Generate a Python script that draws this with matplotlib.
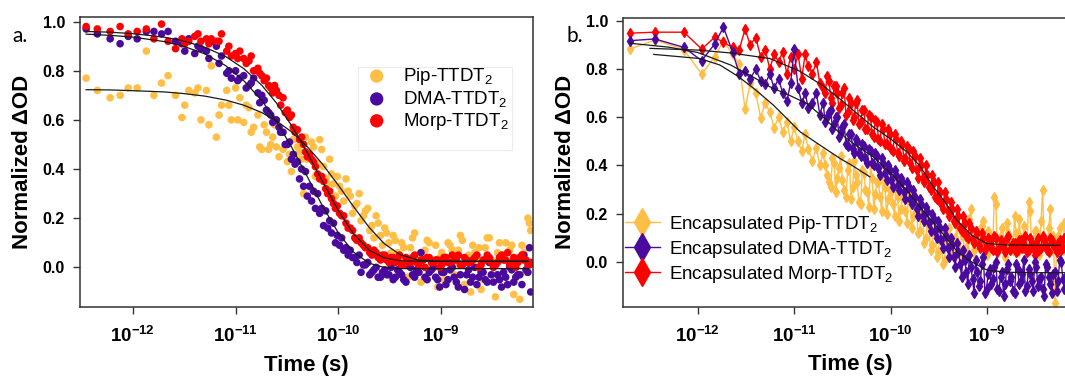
import matplotlib
matplotlib.use('Agg')
import matplotlib.pyplot as plt
from matplotlib.patches import Rectangle
from matplotlib.ticker import NullLocator

plt.rcParams['font.family'] = ['Liberation Sans', 'DejaVu Sans']
plt.rcParams['mathtext.fontset'] = 'custom'
plt.rcParams['mathtext.rm'] = 'Liberation Sans'
plt.rcParams['mathtext.bf'] = 'Liberation Sans:bold'
plt.rcParams['mathtext.it'] = 'Liberation Sans:italic'

PS = 1e-12  # data below is in ps

C_PIP = '#FFBF47'
C_DMA = '#4B0A9E'
C_MORP = '#FF0000'

labels_a = ['Pip-TTDT$_\\mathrm{2}$', 'DMA-TTDT$_\\mathrm{2}$', 'Morp-TTDT$_\\mathrm{2}$']
labels_b = ['Encapsulated ' + s for s in labels_a]

x_tick_values = [1e-12, 1e-11, 1e-10, 1e-9]
x_tick_labels = ['$\\mathbf{10^{-12}}$', '$\\mathbf{10^{-11}}$',
                 '$\\mathbf{10^{-10}}$', '$\\mathbf{10^{-9}}$']
y_tick_values = [0.0, 0.2, 0.4, 0.6, 0.8, 1.0]

# ---- panel a: solution, scatter (two delay sweeps) ----
t_a = [0.35, 0.45, 0.6, 0.75, 0.9,
       1.1, 1.35, 1.6, 1.9, 2.2, 2.6, 3.0, 3.5, 4.0, 4.6, 5.2, 5.8, 6.5, 7.3, 8.2, 9.1,
       10, 11, 12, 13.5, 15, 16.5, 18, 20, 22, 24, 26.5, 29, 32, 35, 38, 42, 46, 50,
       55, 60, 66, 72, 79, 86, 94,
       103, 113, 125, 138, 152, 167, 184, 203, 223, 245, 270, 297, 327, 360, 396,
       435, 480, 530, 580, 640, 700, 770, 850, 930,
       1020, 1120, 1230, 1350, 1480, 1620, 1780, 1950, 2140, 2350, 2580, 2830, 3100,
       3400, 3720, 4080, 4470, 4900, 5370, 5880, 6440, 7050, 7500]

morp_a = [0.98, 0.97, 0.96, 0.98, 0.95,
          0.96, 0.97, 0.93, 0.99, 0.92, 0.89, 0.93, 0.92, 0.94, 0.92, 0.93, 0.93,
          0.92, 0.95, 0.88, 0.86,
          0.87, 0.88, 0.85, 0.84, 0.80, 0.81, 0.78, 0.77, 0.73, 0.74, 0.70, 0.69,
          0.64, 0.62, 0.55, 0.52, 0.50, 0.45, 0.44, 0.41, 0.36, 0.35, 0.30, 0.28, 0.24,
          0.22, 0.21, 0.16, 0.15, 0.11, 0.10, 0.08, 0.06, 0.07, 0.04, 0.05, 0.03,
          0.04, 0.02, 0.05, 0.01, 0.03, 0.04, 0.02, 0.03, 0.00, 0.04, 0.02, 0.03,
          0.01, 0.04, 0.02, 0.03, 0.05, 0.01, 0.03, 0.02, 0.04, 0.00, 0.03, 0.05,
          0.02, 0.01, 0.04, 0.03, 0.06, 0.02, 0.00, 0.04, 0.03, 0.01, 0.02]

dma_a = [0.97, 0.95, 0.93, 0.91, 0.94,
         0.93, 0.96, 0.96, 0.95, 0.96, 0.92, 0.91, 0.93, 0.87, 0.89, 0.88, 0.92,
         0.90, 0.86, 0.79, 0.77,
         0.80, 0.77, 0.78, 0.74, 0.77, 0.71, 0.70, 0.64, 0.62, 0.60, 0.57, 0.55,
         0.50, 0.44, 0.42, 0.36, 0.33, 0.29, 0.27, 0.24, 0.22, 0.17, 0.16, 0.14, 0.10,
         0.09, 0.07, 0.05, 0.04, 0.02, -0.02, 0.01, -0.03, -0.01, -0.04, -0.02,
         -0.03, 0.00, -0.04, -0.02, -0.05, 0.01, -0.03, -0.01, 0.06, -0.04, -0.02,
         0.00, -0.05,
         -0.02, -0.07, -0.01, -0.04, -0.08, 0.01, -0.03, -0.06, 0.00, -0.04, -0.02,
         -0.06, -0.03, 0.01, -0.05, -0.02, -0.07, -0.01, -0.04, -0.03, 0.05, -0.02,
         -0.10]

pip_a = [0.77, 0.72, 0.69, 0.70, 0.73,
         0.73, 0.88, 0.70, 0.75, 0.78, 0.70, 0.61, 0.72, 0.71, 0.60, 0.72, 0.82,
         0.53, 0.66, 0.72, 0.60,
         0.73, 0.69, 0.59, 0.65, 0.57, 0.62, 0.48, 0.55, 0.50, 0.58, 0.45, 0.48,
         0.43, 0.39, 0.45, 0.47, 0.30, 0.44, 0.51, 0.37, 0.52, 0.41, 0.34, 0.38, 0.29,
         0.33, 0.27, 0.31, 0.22, 0.26, 0.19, 0.23, 0.15, 0.12, 0.18, 0.09, 0.14,
         0.06, 0.11, 0.03, 0.08, -0.04, 0.12, 0.05, -0.06, 0.07, 0.10, 0.02, -0.08,
         0.06, 0.04, 0.09, -0.03, 0.07, 0.11, 0.02, -0.10, 0.06, 0.08, -0.05, 0.12,
         0.03, -0.12, 0.10, 0.05, -0.07, 0.09, 0.01, -0.13, 0.06, 0.20, 0.15]

t_a2 = [3.2, 4.3, 5.5, 6.9, 8.6, 10.5, 12.7, 14.2, 17.2, 19,
        21, 23, 25, 27.5, 30.5, 33.5, 36.5, 40, 44, 48,
        52.5, 57.5, 63, 69, 75.5, 82.5, 90, 98, 108, 119,
        131, 145, 160, 176, 194, 213, 234, 258, 284, 312,
        343, 378, 415, 457, 505, 555, 610, 670, 735, 810,
        890, 975, 1070, 1175, 1290, 1415, 1550, 1700, 1865, 2045,
        2245, 2465, 2705, 2965, 3250, 3560, 3900, 4280, 4690, 5130,
        5620, 6160, 6750, 7300]

morp_a2 = [0.91, 0.95, 0.91, 0.92, 0.90, 0.85, 0.83, 0.86, 0.79, 0.76,
           0.74, 0.71, 0.72, 0.66, 0.63, 0.61, 0.57, 0.56, 0.53, 0.47,
           0.46, 0.43, 0.38, 0.37, 0.32, 0.31, 0.26, 0.25, 0.21, 0.18,
           0.16, 0.12, 0.12, 0.09, 0.08, 0.05, 0.06, 0.03, 0.05, 0.02,
           0.04, 0.03, 0.01, 0.04, 0.02, 0.05, 0.01, 0.03, 0.04, 0.02,
           0.03, 0.00, 0.04, 0.02, 0.05, 0.03, 0.01, 0.04, 0.02, 0.03,
           0.05, 0.01, 0.03, 0.04, 0.00, 0.02, 0.05, 0.03, 0.01, 0.04,
           0.02, 0.05, 0.03, 0.01]

dma_a2 = [0.88, 0.90, 0.85, 0.83, 0.80, 0.76, 0.73, 0.75, 0.67, 0.68,
          0.63, 0.59, 0.60, 0.55, 0.50, 0.51, 0.46, 0.43, 0.40, 0.39,
          0.33, 0.31, 0.30, 0.24, 0.23, 0.19, 0.18, 0.13, 0.12, 0.08,
          0.07, 0.04, 0.05, 0.01, 0.02, -0.02, 0.00, -0.04, -0.01, -0.03,
          -0.05, -0.01, -0.03, -0.06, 0.00, -0.04, -0.02, 0.03, -0.05, -0.01,
          -0.04, -0.08, -0.02, -0.05, 0.00, -0.06, -0.03, -0.09, -0.01, -0.04,
          -0.07, -0.02, -0.05, 0.02, -0.06, -0.03, -0.08, -0.04, 0.00, -0.06,
          -0.03, -0.07, -0.01, 0.08]

pip_a2 = [0.66, 0.73, 0.58, 0.62, 0.66, 0.60, 0.66, 0.55, 0.49, 0.58,
          0.48, 0.53, 0.49, 0.55, 0.50, 0.46, 0.52, 0.49, 0.44, 0.53,
          0.46, 0.49, 0.42, 0.48, 0.36, 0.44, 0.34, 0.37, 0.31, 0.36,
          0.29, 0.25, 0.30, 0.21, 0.24, 0.17, 0.21, 0.13, 0.16, 0.10,
          0.13, 0.06, 0.10, 0.03, 0.08, 0.14, -0.02, 0.06, 0.11, 0.00,
          0.09, 0.04, -0.05, 0.10, 0.07, 0.01, 0.13, -0.07, 0.05, 0.09,
          0.03, -0.09, 0.08, 0.12, 0.02, 0.06, -0.04, 0.10, 0.07, -0.11,
          0.04, 0.09, -0.02, 0.18]

fit_t_a = [0.35, 0.6, 1, 2, 3, 5, 8, 12, 18, 25, 35, 50, 70, 100, 140, 200, 280,
           400, 600, 1000, 2000, 4000, 7100]
fit_morp_a = [0.960, 0.957, 0.951, 0.937, 0.923, 0.896, 0.858, 0.809, 0.741, 0.669,
              0.578, 0.466, 0.351, 0.232, 0.138, 0.070, 0.039, 0.027, 0.025, 0.025,
              0.025, 0.025, 0.025]
fit_dma_a = [0.949, 0.944, 0.937, 0.919, 0.902, 0.869, 0.821, 0.760, 0.679, 0.594,
             0.491, 0.369, 0.251, 0.141, 0.063, 0.017, 0.000, -0.005, -0.005, -0.005,
             -0.005, -0.005, -0.005]
fit_pip_a = [0.723, 0.722, 0.719, 0.714, 0.708, 0.697, 0.681, 0.660, 0.630, 0.596,
             0.552, 0.491, 0.421, 0.335, 0.249, 0.163, 0.097, 0.052, 0.030, 0.025,
             0.025, 0.025, 0.025]

# ---- panel b: encapsulated, line + diamonds (two interleaved delay sets) ----
t_b = [0.2, 0.36, 0.72, 1.1, 1.5, 1.85, 2.3, 2.7, 3.1, 3.5,
       4.0, 4.5, 5.0, 5.6, 6.2, 6.9, 7.6, 8.4, 9.2, 10,
       11, 12, 13, 14, 15.5, 17, 18.5, 20, 22, 24,
       26, 28, 30.5, 33, 36, 39, 42, 45, 49, 53,
       57, 62, 67, 72, 78, 84, 91, 98, 106, 114,
       123, 133, 143, 154, 166, 179, 193, 208, 224, 241,
       260, 280, 302, 325, 350, 377, 406, 437, 471, 507,
       546, 588, 633, 682, 735, 792, 853, 919, 990, 1066,
       1148, 1237, 1332, 1435, 1546, 1665, 1794, 1932, 2081, 2242,
       2415, 2601, 2802, 3018, 3251, 3502, 3772, 4063, 4377, 4715,
       5079, 5471, 5893, 6348, 6838, 7366, 7935, 8547]

morp_b = [0.948, 0.952, 0.952, 0.882, 0.931, 0.910, 0.889, 0.880, 0.965, 0.900,
          0.930, 0.850, 0.880, 0.800, 0.860, 0.830, 0.870, 0.780, 0.850, 0.800,
          0.860, 0.760, 0.860, 0.810, 0.780, 0.830, 0.740, 0.720, 0.770, 0.680,
          0.730, 0.700, 0.650, 0.720, 0.620, 0.660, 0.600, 0.670, 0.580, 0.630,
          0.550, 0.600, 0.520, 0.580, 0.500, 0.550, 0.490, 0.530, 0.460, 0.510,
          0.440, 0.490, 0.430, 0.470, 0.390, 0.440, 0.350, 0.400, 0.330, 0.360,
          0.300, 0.330, 0.260, 0.290, 0.220, 0.260, 0.190, 0.220, 0.160, 0.190,
          0.130, 0.160, 0.100, 0.140, 0.080, 0.120, 0.060, 0.100, 0.070, 0.090,
          0.050, 0.100, 0.060, 0.080, 0.040, 0.110, 0.060, 0.080, 0.050, 0.090,
          0.070, 0.040, 0.100, 0.060, 0.080, 0.050, 0.110, 0.070, 0.040, 0.090,
          0.060, 0.080, 0.050, 0.100, 0.060, 0.080, 0.040, 0.070]

dma_b = [0.917, 0.924, 0.889, 0.834, 0.903, 0.973, 0.870, 0.780, 0.790, 0.758,
         0.800, 0.750, 0.737, 0.780, 0.720, 0.760, 0.700, 0.667, 0.740, 0.882,
         0.720, 0.660, 0.700, 0.640, 0.660, 0.700, 0.610, 0.660, 0.600, 0.630,
         0.570, 0.600, 0.540, 0.570, 0.480, 0.530, 0.450, 0.500, 0.440, 0.480,
         0.410, 0.460, 0.400, 0.440, 0.360, 0.410, 0.340, 0.380, 0.310, 0.360,
         0.300, 0.330, 0.260, 0.310, 0.240, 0.270, 0.190, 0.240, 0.170, 0.210,
         0.130, 0.180, 0.100, 0.140, 0.060, 0.110, 0.020, 0.070, -0.020, 0.040,
         -0.060, 0.010, -0.090, -0.020, -0.130, -0.040, -0.080, 0.020, -0.110, -0.030,
         -0.070, 0.000, -0.120, -0.040, -0.090, -0.010, -0.060, -0.130, -0.030, -0.080,
         0.010, -0.100, -0.050, -0.120, -0.020, -0.070, -0.110, -0.010, -0.060, -0.130,
         -0.040, -0.080, 0.000, -0.110, -0.050, -0.090, 0.010, -0.130]

pip_b = [0.882, 0.920, 0.880, 0.778, 0.850, 0.917, 0.860, 0.820, 0.633, 0.740,
         0.700, 0.598, 0.660, 0.620, 0.557, 0.600, 0.540, 0.580, 0.500, 0.560,
         0.500, 0.460, 0.530, 0.470, 0.420, 0.474, 0.400, 0.450, 0.360, 0.310,
         0.410, 0.350, 0.440, 0.300, 0.380, 0.260, 0.420, 0.330, 0.240, 0.370,
         0.290, 0.400, 0.220, 0.330, 0.270, 0.360, 0.200, 0.300, 0.240, 0.330,
         0.170, 0.270, 0.210, 0.300, 0.140, 0.240, 0.120, 0.200, 0.080, 0.170,
         0.050, 0.130, 0.020, 0.100, -0.010, 0.080, 0.140, 0.030, 0.100, 0.060,
         0.120, 0.010, 0.090, 0.220, 0.050, 0.130, 0.070, 0.170, 0.030, 0.110,
         0.060, 0.240, 0.080, 0.140, 0.020, 0.120, 0.070, 0.190, 0.040, 0.100,
         0.150, 0.060, 0.210, 0.080, 0.130, 0.030, 0.300, 0.090, 0.140, 0.050,
         -0.170, 0.110, 0.070, 0.160, 0.040, 0.260, 0.090, 0.130]

t_b2 = [21, 23, 25, 27, 29.2, 31.7, 34.5, 37.5, 40.5, 43.5,
        47, 51, 55, 59.5, 64.5, 69.5, 75, 81, 87.5, 94.5,
        102, 110, 118.5, 128, 138, 148.5, 160, 172.5, 186, 200.5,
        216, 232.5, 250.5, 270, 291, 313.5, 337.5, 363.5, 391.5, 421.5,
        454, 489, 526.5, 567, 610.5, 657.5, 708.5, 763.5, 822.5, 886,
        954.5, 1028, 1107, 1192.5, 1284.5, 1383.5, 1490.5, 1605.5, 1729.5, 1863,
        2006.5, 2161.5, 2328.5, 2508, 2701.5, 2910, 3134.5, 3376.5, 3637, 3917.5,
        4220, 4546, 4897, 5275, 5682, 6120.5, 6593, 7102, 7650.5, 8240]

morp_b2 = [0.70, 0.75, 0.66, 0.73, 0.64, 0.70, 0.61, 0.68, 0.59, 0.66,
           0.57, 0.63, 0.55, 0.61, 0.53, 0.59, 0.51, 0.57, 0.49, 0.55,
           0.47, 0.53, 0.45, 0.50, 0.42, 0.48, 0.41, 0.46, 0.38, 0.43,
           0.35, 0.40, 0.31, 0.36, 0.27, 0.33, 0.24, 0.29, 0.21, 0.25,
           0.17, 0.22, 0.14, 0.19, 0.11, 0.16, 0.09, 0.13, 0.07, 0.12,
           0.05, 0.10, 0.06, 0.11, 0.04, 0.09, 0.06, 0.10, 0.05, 0.08,
           0.04, 0.09, 0.06, 0.11, 0.05, 0.08, 0.03, 0.10, 0.06, 0.09,
           0.05, 0.10, 0.07, 0.04, 0.09, 0.06, 0.10, 0.05, 0.08, 0.06]

dma_b2 = [0.58, 0.62, 0.55, 0.60, 0.52, 0.56, 0.49, 0.53, 0.47, 0.51,
          0.45, 0.49, 0.43, 0.47, 0.41, 0.45, 0.39, 0.43, 0.37, 0.40,
          0.34, 0.38, 0.32, 0.35, 0.29, 0.33, 0.26, 0.30, 0.22, 0.26,
          0.19, 0.23, 0.16, 0.20, 0.13, 0.17, 0.09, 0.14, 0.06, 0.10,
          0.02, 0.08, -0.01, 0.05, -0.04, 0.03, -0.07, 0.01, -0.10, -0.01,
          -0.13, -0.05, -0.09, -0.02, -0.11, -0.06, -0.14, -0.03, -0.08, -0.12,
          -0.01, -0.09, -0.05, -0.12, -0.03, -0.08, 0.00, -0.10, -0.06, -0.14,
          -0.02, -0.09, -0.05, -0.12, 0.01, -0.07, -0.11, -0.03, -0.08, -0.05]

pip_b2 = [0.40, 0.33, 0.43, 0.29, 0.39, 0.34, 0.27, 0.41, 0.31, 0.36,
          0.25, 0.38, 0.30, 0.23, 0.35, 0.28, 0.33, 0.21, 0.31, 0.26,
          0.29, 0.19, 0.27, 0.22, 0.28, 0.16, 0.25, 0.19, 0.22, 0.13,
          0.18, 0.10, 0.15, 0.07, 0.12, 0.04, 0.09, 0.01, 0.11, 0.05,
          0.09, 0.15, 0.03, 0.11, 0.06, 0.18, 0.04, 0.12, 0.08, 0.15,
          0.05, 0.13, 0.09, 0.27, 0.04, 0.11, 0.07, 0.16, 0.10, 0.05,
          0.12, 0.18, 0.06, 0.11, 0.25, 0.07, 0.13, 0.04, 0.17, 0.10,
          0.06, 0.22, 0.11, 0.08, 0.14, 0.05, 0.12, 0.18, 0.07, 0.15]

fit_t_morp_b = [0.32, 1, 2.2, 5.6, 11.5, 20, 30, 45, 66, 100, 147, 200, 278, 380,
                486, 700, 1000, 1600, 3000, 5700]
fit_morp_b = [0.885, 0.878, 0.866, 0.843, 0.790, 0.730, 0.675, 0.615, 0.560, 0.510,
              0.457, 0.400, 0.312, 0.240, 0.174, 0.110, 0.077, 0.071, 0.070, 0.070]
fit_t_dma_b = [0.2, 0.5, 1, 2.2, 4, 5.6, 9, 13.5, 20, 30, 45, 66, 100, 147, 220,
               324, 500, 700, 1000, 1600, 3000, 9000]
fit_dma_b = [0.906, 0.890, 0.868, 0.816, 0.760, 0.726, 0.690, 0.657, 0.600, 0.533,
             0.480, 0.436, 0.370, 0.298, 0.210, 0.133, 0.040, 0.000, -0.033, -0.042,
             -0.044, -0.044]
fit_t_pip_b = [0.35, 1.05, 1.7, 2.6, 3.8, 6.1, 11.5, 18.6, 30, 40, 61]
fit_pip_b = [0.860, 0.843, 0.816, 0.770, 0.720, 0.650, 0.540, 0.484, 0.429, 0.400,
             0.353]


def sec(ps_list):
    return [v * PS for v in ps_list]


def merged(t1, y1, t2, y2):
    """Join two delay sets into one time-ordered trace."""
    pts = sorted(zip(t1 + t2, y1 + y2))
    return sec([p[0] for p in pts]), [p[1] for p in pts]


def style_axes(ax, xlim, ylim):
    ax.set_xscale('log')
    ax.set_xlim(*xlim)
    ax.set_ylim(*ylim)
    ax.set_xticks(x_tick_values)
    ax.set_xticklabels(x_tick_labels)
    ax.xaxis.set_minor_locator(NullLocator())
    ax.set_yticks(y_tick_values)
    ax.set_yticklabels([f'{v:.1f}' for v in y_tick_values], fontweight='bold')
    ax.tick_params(direction='out', length=4.8, width=1.0, color='#333333',
                   labelsize=11.5)
    ax.tick_params(axis='x', pad=9, labelsize=13.5)
    ax.tick_params(axis='y', pad=6)
    for s in ax.spines.values():
        s.set_linewidth(1.1)
        s.set_color('#333333')
    ax.set_xlabel('Time (s)', fontsize=16, fontweight='bold')
    ax.set_ylabel('Normalized ΔOD', fontsize=16, fontweight='bold')
    ax.xaxis.set_label_coords(0.5, -0.165)
    ax.yaxis.set_label_coords(-0.104, 0.5)


W, H = 1065, 380
fig = plt.figure(figsize=(W / 100, H / 100), dpi=100)
ax_a = fig.add_axes([80 / W, (H - 306.7) / H, (533 - 80) / W, (306.7 - 16.7) / H])
ax_b = fig.add_axes([623 / W, (H - 306.5) / H, (1078 - 623) / W, (306.5 - 17.7) / H])

# panel a
for y, y2, c, lab in zip([pip_a, dma_a, morp_a], [pip_a2, dma_a2, morp_a2],
                         [C_PIP, C_DMA, C_MORP], labels_a):
    ax_a.scatter(sec(t_a), y, s=30, color=c, edgecolors='none', label=lab)
    ax_a.scatter(sec(t_a2), y2, s=30, color=c, edgecolors='none')
for y in [fit_pip_a, fit_dma_a, fit_morp_a]:
    ax_a.plot(sec(fit_t_a), y, color='#1a1a1a', lw=0.9, zorder=5)
style_axes(ax_a, (3.05e-13, 7.9e-9), (-0.16, 1.02))
ax_a.legend(loc='upper left', bbox_to_anchor=((360 - 80) / 453, (306.7 - 66) / 290),
            frameon=False, fontsize=13.5, markerscale=1.75, scatterpoints=1,
            handlelength=1.78, handletextpad=0.53, labelspacing=0.1,
            borderpad=0, borderaxespad=0)
ax_a.add_patch(Rectangle((0.6137, 0.540), 0.340, 0.286, transform=ax_a.transAxes,
                         fill=False, edgecolor='#ececec', lw=0.8))

# panel b
handles = {}
for key, y, y2, c, lab in [('pip', pip_b, pip_b2, C_PIP, labels_b[0]),
                           ('morp', morp_b, morp_b2, C_MORP, labels_b[2]),
                           ('dma', dma_b, dma_b2, C_DMA, labels_b[1])]:
    tx, ty = merged(t_b, y, t_b2, y2)
    h, = ax_b.plot(tx, ty, color=c, lw=1.0, marker='d', ms=5.5,
                   mec=c, mfc=c, label=lab)
    handles[key] = h
ax_b.plot(sec(fit_t_pip_b), fit_pip_b, color='#1a1a1a', lw=0.9, zorder=5)
ax_b.plot(sec(fit_t_dma_b), fit_dma_b, color='#1a1a1a', lw=0.9, zorder=5)
ax_b.plot(sec(fit_t_morp_b), fit_morp_b, color='#1a1a1a', lw=0.9, zorder=5)
style_axes(ax_b, (1.68e-13, 8.8e-9), (-0.184, 1.012))
ax_b.legend(handles=[handles['pip'], handles['dma'], handles['morp']],
            loc='upper left', bbox_to_anchor=(0.0044, 0.322), frameon=False,
            fontsize=13.5, markerscale=2.5, handlelength=1.85, handletextpad=0.5,
            labelspacing=0.22, borderpad=0, borderaxespad=0)

fig.text(12.7 / W, 1 - 41.7 / H, 'a.', fontsize=15, family=['Lato', 'DejaVu Sans'],
         va='baseline')
fig.text(566 / W, 1 - 41.7 / H, 'b.', fontsize=15, family=['Lato', 'DejaVu Sans'],
         va='baseline')

fig.savefig('out.png', dpi=100)
